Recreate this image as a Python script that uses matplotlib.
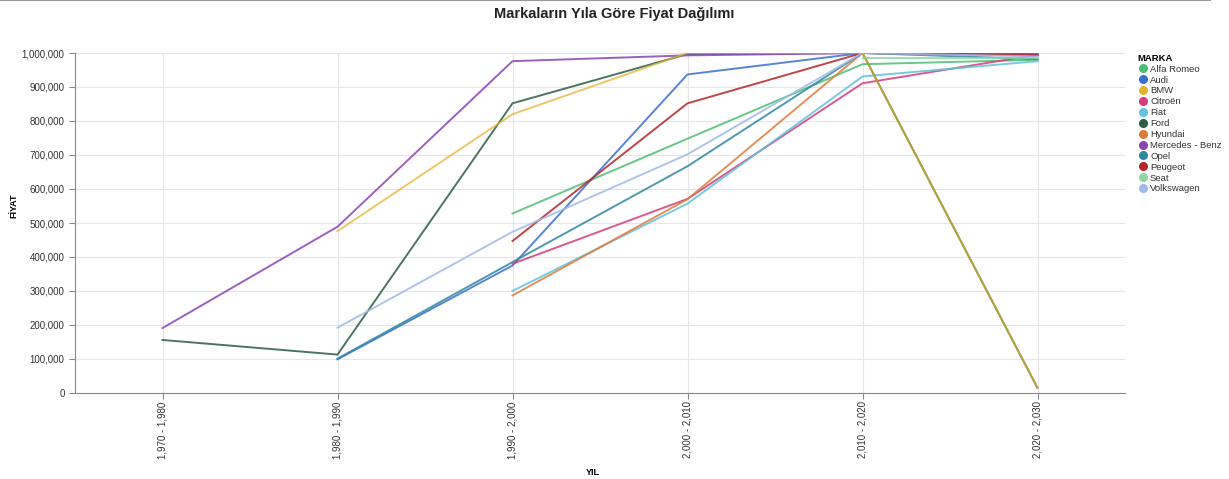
import numpy as np
import matplotlib
matplotlib.use("Agg")
import matplotlib.pyplot as plt
from matplotlib.lines import Line2D
from matplotlib.ticker import FuncFormatter

plt.rcParams['font.family'] = ['Liberation Sans', 'DejaVu Sans']

nan = np.nan
periods = ["1,970 - 1,980", "1,980 - 1,990", "1,990 - 2,000",
           "2,000 - 2,010", "2,010 - 2,020", "2,020 - 2,030"]

brands = ["Alfa Romeo", "Audi", "BMW", "Citroën", "Fiat", "Ford", "Hyundai",
          "Mercedes - Benz", "Opel", "Peugeot", "Seat", "Volkswagen"]

alfa_romeo = [nan, nan, 528000, 748000, 967000, 980000]
audi = [nan, 99000, 375000, 937000, 1000000, 995000]
bmw = [nan, 476000, 820000, 1000000, 1000000, 15000]
citroen = [nan, nan, 380000, 571000, 911000, 995000]
fiat = [nan, nan, 300000, 557000, 931000, 976000]
ford = [156000, 113000, 852000, 997000, 1000000, 15000]
hyundai = [nan, nan, 287000, 570000, 1000000, 996000]
mercedes = [191000, 489000, 976000, 993000, 1000000, 997000]
opel = [nan, 101000, 385000, 667000, 1000000, 982000]
peugeot = [nan, nan, 447000, 852000, 1000000, 993000]
seat = [nan, nan, nan, nan, 985000, 985000]
volkswagen = [nan, 192000, 474000, 702000, 1000000, 990000]

series = [alfa_romeo, audi, bmw, citroen, fiat, ford, hyundai,
          mercedes, opel, peugeot, seat, volkswagen]

colors = ["#4dbd74", "#3b6fcf", "#e2b42a", "#d43c7c", "#5ec2df", "#2c5d45",
          "#e07c3a", "#8b44b5", "#2f87a1", "#b3262b", "#8ed7a3", "#a0bbe6"]

fig = plt.figure(figsize=(12.29, 4.79), dpi=100)
ax = fig.add_axes([75 / 1229, 1 - 393 / 479, 1050 / 1229, 340 / 479])

x = np.arange(len(periods))
for name, vals, c in zip(brands, series, colors):
    # BMW sits on top, semi-transparent, so it blends where it overlaps Ford
    if name == "BMW":
        ax.plot(x, vals, color=c, lw=1.4, alpha=0.72, zorder=3)
    else:
        ax.plot(x, vals, color=c, lw=1.4, alpha=0.85, zorder=2)

ax.set_xlim(-0.5, len(periods) - 0.5)
ax.set_ylim(0, 1000000)
ax.set_yticks(np.arange(0, 1000001, 100000))
ax.yaxis.set_major_formatter(FuncFormatter(lambda v, p: f"{int(v):,}"))
ax.set_xticks(x)
ax.set_xticklabels(periods, rotation=90)

ax.grid(True, color="#e6e6e6", lw=0.8)
ax.set_axisbelow(True)
for s in ["top", "right"]:
    ax.spines[s].set_visible(False)
for s in ["left", "bottom"]:
    ax.spines[s].set_color("#888888")
    ax.spines[s].set_linewidth(0.8)
ax.tick_params(axis='both', colors="#888888", labelcolor="#333333",
               labelsize=7, length=4, width=0.8)
ax.tick_params(axis='x', pad=2)

ax.set_ylabel("FİYAT", fontsize=6.5, fontweight='bold')
ax.yaxis.set_label_coords(-0.054, 0.55)
ax.set_xlabel("YIL", fontsize=6.5, fontweight='bold')
ax.xaxis.set_label_coords(0.493, -0.22)
fig.text(0.5, 1 - 14 / 479, "Markaların Yıla Göre Fiyat Dağılımı",
         ha='center', va='center', fontsize=10.5, fontweight='bold',
         color="#222222")

# thin border along the top edge
fig.add_artist(Line2D([0, 1210 / 1229], [0.999, 0.999], color="#999999",
                      lw=1.5, transform=fig.transFigure))

handles = [Line2D([], [], marker='o', ls='none', color=c, markersize=5.5)
           for c in colors]
leg = fig.legend(handles, brands, title="MARKA", loc='upper left',
                 bbox_to_anchor=(1134 / 1229, 1 - 50 / 479), frameon=False,
                 fontsize=6.8, title_fontsize=6.8, handletextpad=0.1,
                 labelspacing=0.2, handlelength=1.2, borderaxespad=0)
leg.get_title().set_fontweight('bold')
leg._legend_box.align = "left"
for t in leg.get_texts():
    t.set_color("#333333")

fig.savefig("out.png", dpi=100, facecolor="white")
